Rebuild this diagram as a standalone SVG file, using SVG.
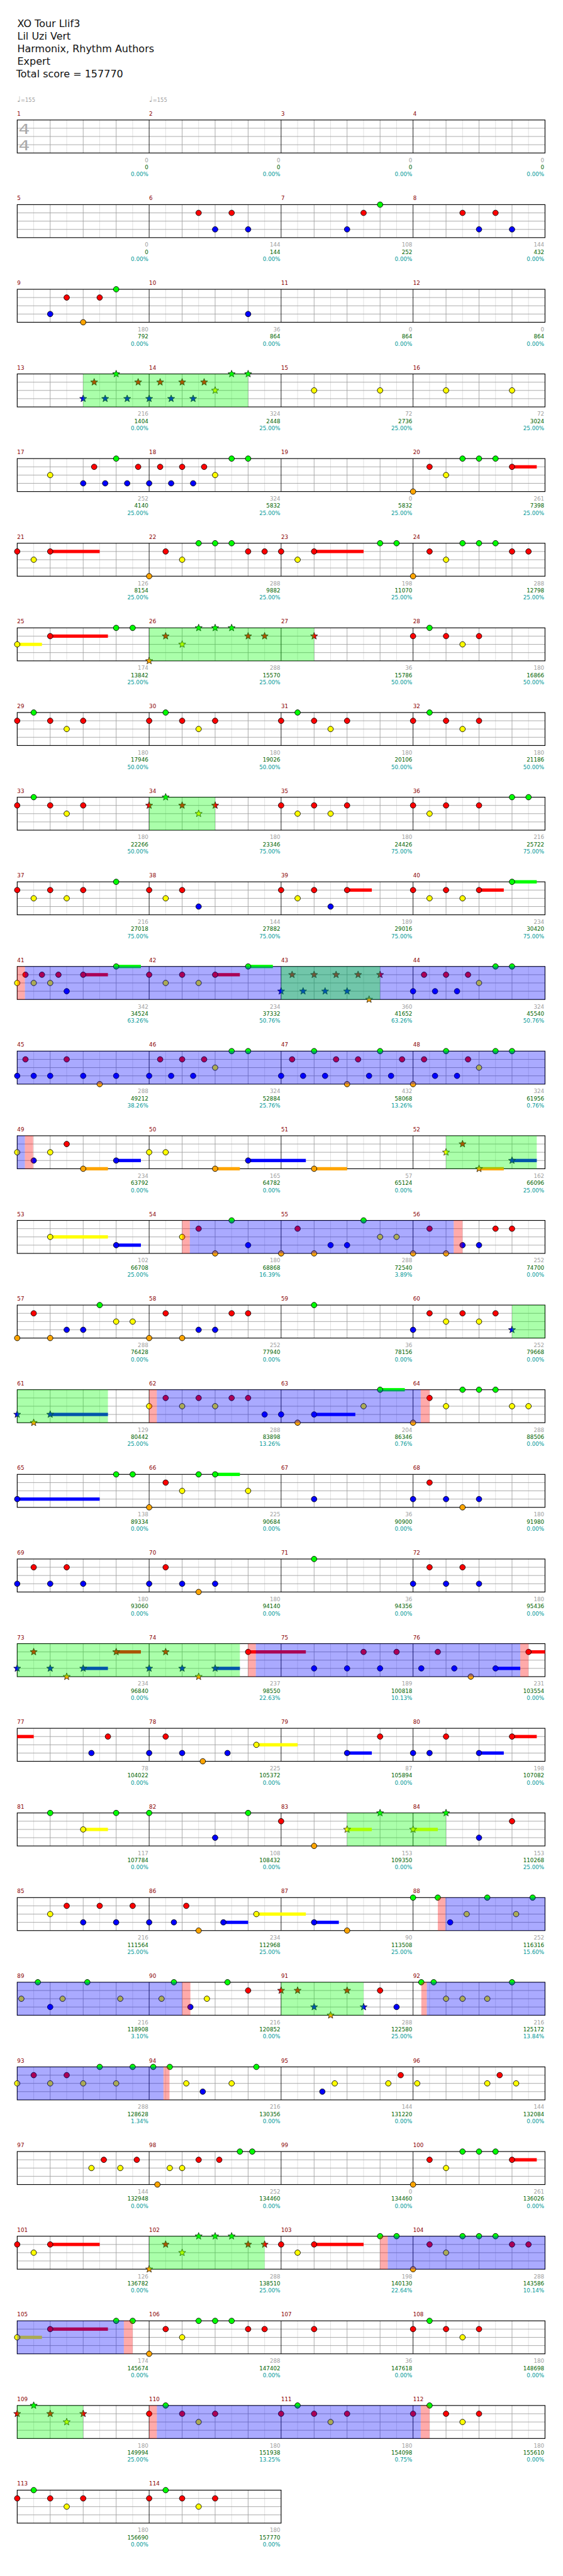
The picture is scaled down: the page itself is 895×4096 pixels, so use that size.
<svg xmlns="http://www.w3.org/2000/svg" width="895" height="4096" viewBox="0 0 895 4096">
<style>
text{font-family:"DejaVu Sans","Liberation Sans",sans-serif}
.ti{font-size:18.3px;fill:#111}
.n{font-size:10px;fill:#8b0000}
.l{font-size:10px;fill:#a0a0a0;text-anchor:end}
.k{fill:#006400}
.p{fill:#009999}
.ts{font-size:25px;fill:#aaa}
.tm{font-size:9.5px;fill:#a0a0a0}
.tq{font-size:14px}
.R{fill:#f00}.Y{fill:#ff0}.G{fill:#0f0}.B{fill:#00f}.O{fill:#ffa500}
.sp{fill:#0f0;fill-opacity:.333}.od{fill:#00f;fill-opacity:.333}.pk{fill:#f00;fill-opacity:.333}
</style>
<defs>
<circle id="c" r="5" stroke="#000" stroke-width="1"/>
<path id="s" d="M0,-6.8L1.7,-2.35L6.47,-2.1L2.76,0.9L4,5.5L0,2.9L-4,5.5L-2.76,0.9L-6.47,-2.1L-1.7,-2.35Z" stroke="#000" stroke-width=".8"/>
<g id="st"><rect width="960" height="60" fill="#fff"/><path d="M30 0v60M90 0v60M150 0v60M210 0v60M270 0v60M330 0v60M390 0v60M450 0v60M510 0v60M570 0v60M630 0v60M690 0v60M750 0v60M810 0v60M870 0v60M930 0v60" stroke="#dcdcdc"/><path d="M0 15h960M0 30h960M0 45h960M60 0v60M120 0v60M180 0v60M300 0v60M360 0v60M420 0v60M540 0v60M600 0v60M660 0v60M780 0v60M840 0v60M900 0v60" stroke="#a0a0a0"/><path d="M240 0v60M480 0v60M720 0v60" stroke="#000"/><rect width="960" height="60" fill="none" stroke="#000" stroke-width="1.3"/></g>
<g id="st2"><rect width="480" height="60" fill="#fff"/><path d="M30 0v60M90 0v60M150 0v60M210 0v60M270 0v60M330 0v60M390 0v60M450 0v60" stroke="#dcdcdc"/><path d="M0 15h480M0 30h480M0 45h480M60 0v60M120 0v60M180 0v60M300 0v60M360 0v60M420 0v60" stroke="#a0a0a0"/><path d="M240 0v60" stroke="#000"/><rect width="480" height="60" fill="none" stroke="#000" stroke-width="1.3"/></g>
</defs>
<rect width="895" height="4096" fill="#fff"/>
<g transform="scale(0.874)">
<g id="header">
<text class="ti" x="31.5" y="49">XO Tour Llif3</text>
<text class="ti" x="31.5" y="72">Lil Uzi Vert</text>
<text class="ti" x="31.5" y="95">Harmonix, Rhythm Authors</text>
<text class="ti" x="31.5" y="118">Expert</text>
<text class="ti" x="29.5" y="141">Total score = 157770</text>
</g>

<g id="row1" transform="translate(31.3,218.3)">
<use href="#st"/>
<text class="ts" transform="translate(2.5,25) scale(1.3,1)">4</text>
<text class="ts" transform="translate(2.5,54.7) scale(1.3,1)">4</text>
<text class="tm" x="0" y="-32.5"><tspan class="tq">♩</tspan>=155</text>
<text class="tm" x="240" y="-32.5"><tspan class="tq">♩</tspan>=155</text>
<g id="m1"><text class="n" y="-8">1</text><text class="l" x="238.5" y="76.5">0<tspan class="k" x="238.5" dy="13">0</tspan><tspan class="p" x="238.5" dy="13">0.00%</tspan></text></g>
<g id="m2" transform="translate(240)"><text class="n" y="-8">2</text><text class="l" x="238.5" y="76.5">0<tspan class="k" x="238.5" dy="13">0</tspan><tspan class="p" x="238.5" dy="13">0.00%</tspan></text></g>
<g id="m3" transform="translate(480)"><text class="n" y="-8">3</text><text class="l" x="238.5" y="76.5">0<tspan class="k" x="238.5" dy="13">0</tspan><tspan class="p" x="238.5" dy="13">0.00%</tspan></text></g>
<g id="m4" transform="translate(720)"><text class="n" y="-8">4</text><text class="l" x="238.5" y="76.5">0<tspan class="k" x="238.5" dy="13">0</tspan><tspan class="p" x="238.5" dy="13">0.00%</tspan></text></g>
</g>

<g id="row2" transform="translate(31.3,372.3)">
<use href="#st"/>
<g id="m5"><text class="n" y="-8">5</text><text class="l" x="238.5" y="76.5">0<tspan class="k" x="238.5" dy="13">0</tspan><tspan class="p" x="238.5" dy="13">0.00%</tspan></text></g>
<g id="m6" transform="translate(240)"><text class="n" y="-8">6</text><use href="#c" class="R" x="90" y="15"/><use href="#c" class="B" x="120" y="45"/><use href="#c" class="R" x="150" y="15"/><use href="#c" class="B" x="180" y="45"/><text class="l" x="238.5" y="76.5">144<tspan class="k" x="238.5" dy="13">144</tspan><tspan class="p" x="238.5" dy="13">0.00%</tspan></text></g>
<g id="m7" transform="translate(480)"><text class="n" y="-8">7</text><use href="#c" class="B" x="120" y="45"/><use href="#c" class="R" x="150" y="15"/><use href="#c" class="G" x="180" y="0"/><text class="l" x="238.5" y="76.5">108<tspan class="k" x="238.5" dy="13">252</tspan><tspan class="p" x="238.5" dy="13">0.00%</tspan></text></g>
<g id="m8" transform="translate(720)"><text class="n" y="-8">8</text><use href="#c" class="R" x="90" y="15"/><use href="#c" class="B" x="120" y="45"/><use href="#c" class="R" x="150" y="15"/><use href="#c" class="B" x="180" y="45"/><text class="l" x="238.5" y="76.5">144<tspan class="k" x="238.5" dy="13">432</tspan><tspan class="p" x="238.5" dy="13">0.00%</tspan></text></g>
</g>

<g id="row3" transform="translate(31.3,526.3)">
<use href="#st"/>
<g id="m9"><text class="n" y="-8">9</text><use href="#c" class="B" x="60" y="45"/><use href="#c" class="R" x="90" y="15"/><use href="#c" class="O" x="120" y="60"/><use href="#c" class="R" x="150" y="15"/><use href="#c" class="G" x="180" y="0"/><text class="l" x="238.5" y="76.5">180<tspan class="k" x="238.5" dy="13">792</tspan><tspan class="p" x="238.5" dy="13">0.00%</tspan></text></g>
<g id="m10" transform="translate(240)"><text class="n" y="-8">10</text><use href="#c" class="B" x="180" y="45"/><text class="l" x="238.5" y="76.5">36<tspan class="k" x="238.5" dy="13">864</tspan><tspan class="p" x="238.5" dy="13">0.00%</tspan></text></g>
<g id="m11" transform="translate(480)"><text class="n" y="-8">11</text><text class="l" x="238.5" y="76.5">0<tspan class="k" x="238.5" dy="13">864</tspan><tspan class="p" x="238.5" dy="13">0.00%</tspan></text></g>
<g id="m12" transform="translate(720)"><text class="n" y="-8">12</text><text class="l" x="238.5" y="76.5">0<tspan class="k" x="238.5" dy="13">864</tspan><tspan class="p" x="238.5" dy="13">0.00%</tspan></text></g>
</g>

<g id="row4" transform="translate(31.3,680.3)">
<use href="#st"/>
<g id="m13"><text class="n" y="-8">13</text><use href="#s" class="B" x="120" y="45"/><use href="#s" class="R" x="140" y="15"/><use href="#s" class="B" x="160" y="45"/><use href="#s" class="G" x="180" y="0"/><use href="#s" class="B" x="200" y="45"/><use href="#s" class="R" x="220" y="15"/><text class="l" x="238.5" y="76.5">216<tspan class="k" x="238.5" dy="13">1404</tspan><tspan class="p" x="238.5" dy="13">0.00%</tspan></text></g>
<g id="m14" transform="translate(240)"><text class="n" y="-8">14</text><use href="#s" class="B" x="0" y="45"/><use href="#s" class="R" x="20" y="15"/><use href="#s" class="B" x="40" y="45"/><use href="#s" class="R" x="60" y="15"/><use href="#s" class="B" x="80" y="45"/><use href="#s" class="R" x="100" y="15"/><use href="#s" class="Y" x="120" y="30"/><use href="#s" class="G" x="150" y="0"/><use href="#s" class="G" x="180" y="0"/><text class="l" x="238.5" y="76.5">324<tspan class="k" x="238.5" dy="13">2448</tspan><tspan class="p" x="238.5" dy="13">25.00%</tspan></text></g>
<g id="m15" transform="translate(480)"><text class="n" y="-8">15</text><use href="#c" class="Y" x="60" y="30"/><use href="#c" class="Y" x="180" y="30"/><text class="l" x="238.5" y="76.5">72<tspan class="k" x="238.5" dy="13">2736</tspan><tspan class="p" x="238.5" dy="13">25.00%</tspan></text></g>
<g id="m16" transform="translate(720)"><text class="n" y="-8">16</text><use href="#c" class="Y" x="60" y="30"/><use href="#c" class="Y" x="180" y="30"/><text class="l" x="238.5" y="76.5">72<tspan class="k" x="238.5" dy="13">3024</tspan><tspan class="p" x="238.5" dy="13">25.00%</tspan></text></g>
<rect class="sp" x="120" width="300" height="60"/>
</g>

<g id="row5" transform="translate(31.3,834.3)">
<use href="#st"/>
<g id="m17"><text class="n" y="-8">17</text><use href="#c" class="Y" x="60" y="30"/><use href="#c" class="B" x="120" y="45"/><use href="#c" class="R" x="140" y="15"/><use href="#c" class="B" x="160" y="45"/><use href="#c" class="G" x="180" y="0"/><use href="#c" class="B" x="200" y="45"/><use href="#c" class="R" x="220" y="15"/><text class="l" x="238.5" y="76.5">252<tspan class="k" x="238.5" dy="13">4140</tspan><tspan class="p" x="238.5" dy="13">25.00%</tspan></text></g>
<g id="m18" transform="translate(240)"><text class="n" y="-8">18</text><use href="#c" class="B" x="0" y="45"/><use href="#c" class="R" x="20" y="15"/><use href="#c" class="B" x="40" y="45"/><use href="#c" class="R" x="60" y="15"/><use href="#c" class="B" x="80" y="45"/><use href="#c" class="R" x="100" y="15"/><use href="#c" class="Y" x="120" y="30"/><use href="#c" class="G" x="150" y="0"/><use href="#c" class="G" x="180" y="0"/><text class="l" x="238.5" y="76.5">324<tspan class="k" x="238.5" dy="13">5832</tspan><tspan class="p" x="238.5" dy="13">25.00%</tspan></text></g>
<g id="m19" transform="translate(480)"><text class="n" y="-8">19</text><text class="l" x="238.5" y="76.5">0<tspan class="k" x="238.5" dy="13">5832</tspan><tspan class="p" x="238.5" dy="13">25.00%</tspan></text></g>
<g id="m20" transform="translate(720)"><text class="n" y="-8">20</text><rect class="R" x="180" y="12" width="45" height="6"/><use href="#c" class="O" x="0" y="60"/><use href="#c" class="R" x="30" y="15"/><use href="#c" class="Y" x="60" y="30"/><use href="#c" class="G" x="90" y="0"/><use href="#c" class="G" x="120" y="0"/><use href="#c" class="G" x="150" y="0"/><use href="#c" class="R" x="180" y="15"/><text class="l" x="238.5" y="76.5">261<tspan class="k" x="238.5" dy="13">7398</tspan><tspan class="p" x="238.5" dy="13">25.00%</tspan></text></g>
</g>

<g id="row6" transform="translate(31.3,988.3)">
<use href="#st"/>
<g id="m21"><text class="n" y="-8">21</text><rect class="R" x="60" y="12" width="90" height="6"/><use href="#c" class="R" x="0" y="15"/><use href="#c" class="Y" x="30" y="30"/><use href="#c" class="R" x="60" y="15"/><text class="l" x="238.5" y="76.5">126<tspan class="k" x="238.5" dy="13">8154</tspan><tspan class="p" x="238.5" dy="13">25.00%</tspan></text></g>
<g id="m22" transform="translate(240)"><text class="n" y="-8">22</text><use href="#c" class="O" x="0" y="60"/><use href="#c" class="R" x="30" y="15"/><use href="#c" class="Y" x="60" y="30"/><use href="#c" class="G" x="90" y="0"/><use href="#c" class="G" x="120" y="0"/><use href="#c" class="G" x="150" y="0"/><use href="#c" class="R" x="180" y="15"/><use href="#c" class="R" x="210" y="15"/><text class="l" x="238.5" y="76.5">288<tspan class="k" x="238.5" dy="13">9882</tspan><tspan class="p" x="238.5" dy="13">25.00%</tspan></text></g>
<g id="m23" transform="translate(480)"><text class="n" y="-8">23</text><rect class="R" x="60" y="12" width="90" height="6"/><use href="#c" class="R" x="0" y="15"/><use href="#c" class="Y" x="30" y="30"/><use href="#c" class="R" x="60" y="15"/><use href="#c" class="G" x="180" y="0"/><use href="#c" class="G" x="210" y="0"/><text class="l" x="238.5" y="76.5">198<tspan class="k" x="238.5" dy="13">11070</tspan><tspan class="p" x="238.5" dy="13">25.00%</tspan></text></g>
<g id="m24" transform="translate(720)"><text class="n" y="-8">24</text><use href="#c" class="O" x="0" y="60"/><use href="#c" class="R" x="30" y="15"/><use href="#c" class="Y" x="60" y="30"/><use href="#c" class="G" x="90" y="0"/><use href="#c" class="G" x="120" y="0"/><use href="#c" class="G" x="150" y="0"/><use href="#c" class="R" x="180" y="15"/><use href="#c" class="R" x="210" y="15"/><text class="l" x="238.5" y="76.5">288<tspan class="k" x="238.5" dy="13">12798</tspan><tspan class="p" x="238.5" dy="13">25.00%</tspan></text></g>
</g>

<g id="row7" transform="translate(31.3,1142.3)">
<use href="#st"/>
<g id="m25"><text class="n" y="-8">25</text><rect class="Y" x="0" y="27" width="45" height="6"/><rect class="R" x="60" y="12" width="105" height="6"/><use href="#c" class="Y" x="0" y="30"/><use href="#c" class="R" x="60" y="15"/><use href="#c" class="G" x="180" y="0"/><use href="#c" class="G" x="210" y="0"/><text class="l" x="238.5" y="76.5">174<tspan class="k" x="238.5" dy="13">13842</tspan><tspan class="p" x="238.5" dy="13">25.00%</tspan></text></g>
<g id="m26" transform="translate(240)"><text class="n" y="-8">26</text><use href="#s" class="O" x="0" y="60"/><use href="#s" class="R" x="30" y="15"/><use href="#s" class="Y" x="60" y="30"/><use href="#s" class="G" x="90" y="0"/><use href="#s" class="G" x="120" y="0"/><use href="#s" class="G" x="150" y="0"/><use href="#s" class="R" x="180" y="15"/><use href="#s" class="R" x="210" y="15"/><text class="l" x="238.5" y="76.5">288<tspan class="k" x="238.5" dy="13">15570</tspan><tspan class="p" x="238.5" dy="13">25.00%</tspan></text></g>
<g id="m27" transform="translate(480)"><text class="n" y="-8">27</text><use href="#s" class="R" x="60" y="15"/><text class="l" x="238.5" y="76.5">36<tspan class="k" x="238.5" dy="13">15786</tspan><tspan class="p" x="238.5" dy="13">50.00%</tspan></text></g>
<g id="m28" transform="translate(720)"><text class="n" y="-8">28</text><use href="#c" class="R" x="0" y="15"/><use href="#c" class="G" x="30" y="0"/><use href="#c" class="R" x="60" y="15"/><use href="#c" class="Y" x="90" y="30"/><use href="#c" class="R" x="120" y="15"/><text class="l" x="238.5" y="76.5">180<tspan class="k" x="238.5" dy="13">16866</tspan><tspan class="p" x="238.5" dy="13">50.00%</tspan></text></g>
<rect class="sp" x="240" width="300" height="60"/>
</g>

<g id="row8" transform="translate(31.3,1296.3)">
<use href="#st"/>
<g id="m29"><text class="n" y="-8">29</text><use href="#c" class="R" x="0" y="15"/><use href="#c" class="G" x="30" y="0"/><use href="#c" class="R" x="60" y="15"/><use href="#c" class="Y" x="90" y="30"/><use href="#c" class="R" x="120" y="15"/><text class="l" x="238.5" y="76.5">180<tspan class="k" x="238.5" dy="13">17946</tspan><tspan class="p" x="238.5" dy="13">50.00%</tspan></text></g>
<g id="m30" transform="translate(240)"><text class="n" y="-8">30</text><use href="#c" class="R" x="0" y="15"/><use href="#c" class="G" x="30" y="0"/><use href="#c" class="R" x="60" y="15"/><use href="#c" class="Y" x="90" y="30"/><use href="#c" class="R" x="120" y="15"/><text class="l" x="238.5" y="76.5">180<tspan class="k" x="238.5" dy="13">19026</tspan><tspan class="p" x="238.5" dy="13">50.00%</tspan></text></g>
<g id="m31" transform="translate(480)"><text class="n" y="-8">31</text><use href="#c" class="R" x="0" y="15"/><use href="#c" class="G" x="30" y="0"/><use href="#c" class="R" x="60" y="15"/><use href="#c" class="Y" x="90" y="30"/><use href="#c" class="R" x="120" y="15"/><text class="l" x="238.5" y="76.5">180<tspan class="k" x="238.5" dy="13">20106</tspan><tspan class="p" x="238.5" dy="13">50.00%</tspan></text></g>
<g id="m32" transform="translate(720)"><text class="n" y="-8">32</text><use href="#c" class="R" x="0" y="15"/><use href="#c" class="G" x="30" y="0"/><use href="#c" class="R" x="60" y="15"/><use href="#c" class="Y" x="90" y="30"/><use href="#c" class="R" x="120" y="15"/><text class="l" x="238.5" y="76.5">180<tspan class="k" x="238.5" dy="13">21186</tspan><tspan class="p" x="238.5" dy="13">50.00%</tspan></text></g>
</g>

<g id="row9" transform="translate(31.3,1450.3)">
<use href="#st"/>
<g id="m33"><text class="n" y="-8">33</text><use href="#c" class="R" x="0" y="15"/><use href="#c" class="G" x="30" y="0"/><use href="#c" class="R" x="60" y="15"/><use href="#c" class="Y" x="90" y="30"/><use href="#c" class="R" x="120" y="15"/><text class="l" x="238.5" y="76.5">180<tspan class="k" x="238.5" dy="13">22266</tspan><tspan class="p" x="238.5" dy="13">50.00%</tspan></text></g>
<g id="m34" transform="translate(240)"><text class="n" y="-8">34</text><use href="#s" class="R" x="0" y="15"/><use href="#s" class="G" x="30" y="0"/><use href="#s" class="R" x="60" y="15"/><use href="#s" class="Y" x="90" y="30"/><use href="#s" class="R" x="120" y="15"/><text class="l" x="238.5" y="76.5">180<tspan class="k" x="238.5" dy="13">23346</tspan><tspan class="p" x="238.5" dy="13">75.00%</tspan></text></g>
<g id="m35" transform="translate(480)"><text class="n" y="-8">35</text><use href="#c" class="R" x="0" y="15"/><use href="#c" class="Y" x="30" y="30"/><use href="#c" class="R" x="60" y="15"/><use href="#c" class="Y" x="90" y="30"/><use href="#c" class="R" x="120" y="15"/><text class="l" x="238.5" y="76.5">180<tspan class="k" x="238.5" dy="13">24426</tspan><tspan class="p" x="238.5" dy="13">75.00%</tspan></text></g>
<g id="m36" transform="translate(720)"><text class="n" y="-8">36</text><use href="#c" class="R" x="0" y="15"/><use href="#c" class="Y" x="30" y="30"/><use href="#c" class="R" x="60" y="15"/><use href="#c" class="R" x="120" y="15"/><use href="#c" class="G" x="180" y="0"/><use href="#c" class="G" x="210" y="0"/><text class="l" x="238.5" y="76.5">216<tspan class="k" x="238.5" dy="13">25722</tspan><tspan class="p" x="238.5" dy="13">75.00%</tspan></text></g>
<rect class="sp" x="240" width="120" height="60"/>
</g>

<g id="row10" transform="translate(31.3,1604.3)">
<use href="#st"/>
<g id="m37"><text class="n" y="-8">37</text><use href="#c" class="R" x="0" y="15"/><use href="#c" class="Y" x="30" y="30"/><use href="#c" class="R" x="60" y="15"/><use href="#c" class="Y" x="90" y="30"/><use href="#c" class="R" x="120" y="15"/><use href="#c" class="G" x="180" y="0"/><text class="l" x="238.5" y="76.5">216<tspan class="k" x="238.5" dy="13">27018</tspan><tspan class="p" x="238.5" dy="13">75.00%</tspan></text></g>
<g id="m38" transform="translate(240)"><text class="n" y="-8">38</text><use href="#c" class="R" x="0" y="15"/><use href="#c" class="Y" x="30" y="30"/><use href="#c" class="R" x="60" y="15"/><use href="#c" class="B" x="90" y="45"/><text class="l" x="238.5" y="76.5">144<tspan class="k" x="238.5" dy="13">27882</tspan><tspan class="p" x="238.5" dy="13">75.00%</tspan></text></g>
<g id="m39" transform="translate(480)"><text class="n" y="-8">39</text><rect class="R" x="120" y="12" width="45" height="6"/><use href="#c" class="R" x="0" y="15"/><use href="#c" class="Y" x="30" y="30"/><use href="#c" class="R" x="60" y="15"/><use href="#c" class="B" x="90" y="45"/><use href="#c" class="R" x="120" y="15"/><text class="l" x="238.5" y="76.5">189<tspan class="k" x="238.5" dy="13">29016</tspan><tspan class="p" x="238.5" dy="13">75.00%</tspan></text></g>
<g id="m40" transform="translate(720)"><text class="n" y="-8">40</text><rect class="R" x="120" y="12" width="45" height="6"/><rect class="G" x="180" y="-3" width="45" height="6"/><use href="#c" class="R" x="0" y="15"/><use href="#c" class="Y" x="30" y="30"/><use href="#c" class="R" x="60" y="15"/><use href="#c" class="Y" x="90" y="30"/><use href="#c" class="R" x="120" y="15"/><use href="#c" class="G" x="180" y="0"/><text class="l" x="238.5" y="76.5">234<tspan class="k" x="238.5" dy="13">30420</tspan><tspan class="p" x="238.5" dy="13">75.00%</tspan></text></g>
</g>

<g id="row11" transform="translate(31.3,1758.3)">
<use href="#st"/>
<g id="m41"><text class="n" y="-8">41</text><rect class="R" x="120" y="12" width="45" height="6"/><rect class="G" x="180" y="-3" width="45" height="6"/><use href="#c" class="Y" x="0" y="30"/><use href="#c" class="R" x="15" y="15"/><use href="#c" class="Y" x="30" y="30"/><use href="#c" class="R" x="45" y="15"/><use href="#c" class="Y" x="60" y="30"/><use href="#c" class="R" x="75" y="15"/><use href="#c" class="B" x="90" y="45"/><use href="#c" class="R" x="120" y="15"/><use href="#c" class="G" x="180" y="0"/><text class="l" x="238.5" y="76.5">342<tspan class="k" x="238.5" dy="13">34524</tspan><tspan class="p" x="238.5" dy="13">63.26%</tspan></text></g>
<g id="m42" transform="translate(240)"><text class="n" y="-8">42</text><rect class="R" x="120" y="12" width="45" height="6"/><rect class="G" x="180" y="-3" width="45" height="6"/><use href="#c" class="R" x="0" y="15"/><use href="#c" class="Y" x="30" y="30"/><use href="#c" class="R" x="60" y="15"/><use href="#c" class="Y" x="90" y="30"/><use href="#c" class="R" x="120" y="15"/><use href="#c" class="G" x="180" y="0"/><text class="l" x="238.5" y="76.5">234<tspan class="k" x="238.5" dy="13">37332</tspan><tspan class="p" x="238.5" dy="13">50.76%</tspan></text></g>
<g id="m43" transform="translate(480)"><text class="n" y="-8">43</text><use href="#s" class="B" x="0" y="45"/><use href="#s" class="R" x="20" y="15"/><use href="#s" class="B" x="40" y="45"/><use href="#s" class="R" x="60" y="15"/><use href="#s" class="B" x="80" y="45"/><use href="#s" class="R" x="100" y="15"/><use href="#s" class="B" x="120" y="45"/><use href="#s" class="R" x="140" y="15"/><use href="#s" class="O" x="160" y="60"/><use href="#s" class="R" x="180" y="15"/><text class="l" x="238.5" y="76.5">360<tspan class="k" x="238.5" dy="13">41652</tspan><tspan class="p" x="238.5" dy="13">63.26%</tspan></text></g>
<g id="m44" transform="translate(720)"><text class="n" y="-8">44</text><use href="#c" class="B" x="0" y="45"/><use href="#c" class="R" x="20" y="15"/><use href="#c" class="B" x="40" y="45"/><use href="#c" class="R" x="60" y="15"/><use href="#c" class="B" x="80" y="45"/><use href="#c" class="R" x="100" y="15"/><use href="#c" class="Y" x="120" y="30"/><use href="#c" class="G" x="150" y="0"/><use href="#c" class="G" x="180" y="0"/><text class="l" x="238.5" y="76.5">324<tspan class="k" x="238.5" dy="13">45540</tspan><tspan class="p" x="238.5" dy="13">50.76%</tspan></text></g>
<rect class="pk" x="0" width="14" height="60"/><rect class="od" x="14" width="946" height="60"/><rect class="sp" x="480" width="180" height="60"/>
</g>

<g id="row12" transform="translate(31.3,1912.3)">
<use href="#st"/>
<g id="m45"><text class="n" y="-8">45</text><use href="#c" class="B" x="0" y="45"/><use href="#c" class="R" x="15" y="15"/><use href="#c" class="B" x="30" y="45"/><use href="#c" class="B" x="60" y="45"/><use href="#c" class="R" x="90" y="15"/><use href="#c" class="B" x="120" y="45"/><use href="#c" class="O" x="150" y="60"/><use href="#c" class="B" x="180" y="45"/><text class="l" x="238.5" y="76.5">288<tspan class="k" x="238.5" dy="13">49212</tspan><tspan class="p" x="238.5" dy="13">38.26%</tspan></text></g>
<g id="m46" transform="translate(240)"><text class="n" y="-8">46</text><use href="#c" class="B" x="0" y="45"/><use href="#c" class="R" x="20" y="15"/><use href="#c" class="B" x="40" y="45"/><use href="#c" class="R" x="60" y="15"/><use href="#c" class="B" x="80" y="45"/><use href="#c" class="R" x="100" y="15"/><use href="#c" class="Y" x="120" y="30"/><use href="#c" class="G" x="150" y="0"/><use href="#c" class="G" x="180" y="0"/><text class="l" x="238.5" y="76.5">324<tspan class="k" x="238.5" dy="13">52884</tspan><tspan class="p" x="238.5" dy="13">25.76%</tspan></text></g>
<g id="m47" transform="translate(480)"><text class="n" y="-8">47</text><use href="#c" class="B" x="0" y="45"/><use href="#c" class="R" x="20" y="15"/><use href="#c" class="B" x="40" y="45"/><use href="#c" class="G" x="60" y="0"/><use href="#c" class="B" x="80" y="45"/><use href="#c" class="R" x="100" y="15"/><use href="#c" class="O" x="120" y="60"/><use href="#c" class="R" x="140" y="15"/><use href="#c" class="B" x="160" y="45"/><use href="#c" class="G" x="180" y="0"/><use href="#c" class="B" x="200" y="45"/><use href="#c" class="R" x="220" y="15"/><text class="l" x="238.5" y="76.5">432<tspan class="k" x="238.5" dy="13">58068</tspan><tspan class="p" x="238.5" dy="13">13.26%</tspan></text></g>
<g id="m48" transform="translate(720)"><text class="n" y="-8">48</text><use href="#c" class="O" x="0" y="60"/><use href="#c" class="R" x="20" y="15"/><use href="#c" class="B" x="40" y="45"/><use href="#c" class="G" x="60" y="0"/><use href="#c" class="B" x="80" y="45"/><use href="#c" class="R" x="100" y="15"/><use href="#c" class="Y" x="120" y="30"/><use href="#c" class="G" x="150" y="0"/><use href="#c" class="G" x="180" y="0"/><text class="l" x="238.5" y="76.5">324<tspan class="k" x="238.5" dy="13">61956</tspan><tspan class="p" x="238.5" dy="13">0.76%</tspan></text></g>
<rect class="od" x="0" width="960" height="60"/>
</g>

<g id="row13" transform="translate(31.3,2066.3)">
<use href="#st"/>
<g id="m49"><text class="n" y="-8">49</text><rect class="O" x="120" y="57" width="45" height="6"/><rect class="B" x="180" y="42" width="45" height="6"/><use href="#c" class="Y" x="0" y="30"/><use href="#c" class="B" x="30" y="45"/><use href="#c" class="Y" x="60" y="30"/><use href="#c" class="R" x="90" y="15"/><use href="#c" class="O" x="120" y="60"/><use href="#c" class="B" x="180" y="45"/><text class="l" x="238.5" y="76.5">234<tspan class="k" x="238.5" dy="13">63792</tspan><tspan class="p" x="238.5" dy="13">0.00%</tspan></text></g>
<g id="m50" transform="translate(240)"><text class="n" y="-8">50</text><rect class="O" x="120" y="57" width="45" height="6"/><rect class="B" x="180" y="42" width="105" height="6"/><use href="#c" class="Y" x="0" y="30"/><use href="#c" class="Y" x="30" y="30"/><use href="#c" class="O" x="120" y="60"/><use href="#c" class="B" x="180" y="45"/><text class="l" x="238.5" y="76.5">165<tspan class="k" x="238.5" dy="13">64782</tspan><tspan class="p" x="238.5" dy="13">0.00%</tspan></text></g>
<g id="m51" transform="translate(480)"><text class="n" y="-8">51</text><rect class="O" x="60" y="57" width="60" height="6"/><use href="#c" class="O" x="60" y="60"/><text class="l" x="238.5" y="76.5">57<tspan class="k" x="238.5" dy="13">65124</tspan><tspan class="p" x="238.5" dy="13">0.00%</tspan></text></g>
<g id="m52" transform="translate(720)"><text class="n" y="-8">52</text><rect class="O" x="120" y="57" width="45" height="6"/><rect class="B" x="180" y="42" width="45" height="6"/><use href="#s" class="Y" x="60" y="30"/><use href="#s" class="R" x="90" y="15"/><use href="#s" class="O" x="120" y="60"/><use href="#s" class="B" x="180" y="45"/><text class="l" x="238.5" y="76.5">162<tspan class="k" x="238.5" dy="13">66096</tspan><tspan class="p" x="238.5" dy="13">25.00%</tspan></text></g>
<rect class="od" x="0" width="14" height="60"/><rect class="pk" x="14" width="15" height="60"/><rect class="sp" x="780" width="165" height="60"/>
</g>

<g id="row14" transform="translate(31.3,2220.3)">
<use href="#st"/>
<g id="m53"><text class="n" y="-8">53</text><rect class="Y" x="60" y="27" width="105" height="6"/><rect class="B" x="180" y="42" width="45" height="6"/><use href="#c" class="Y" x="60" y="30"/><use href="#c" class="B" x="180" y="45"/><text class="l" x="238.5" y="76.5">102<tspan class="k" x="238.5" dy="13">66708</tspan><tspan class="p" x="238.5" dy="13">25.00%</tspan></text></g>
<g id="m54" transform="translate(240)"><text class="n" y="-8">54</text><use href="#c" class="Y" x="60" y="30"/><use href="#c" class="R" x="90" y="15"/><use href="#c" class="O" x="120" y="60"/><use href="#c" class="G" x="150" y="0"/><use href="#c" class="B" x="180" y="45"/><text class="l" x="238.5" y="76.5">180<tspan class="k" x="238.5" dy="13">68868</tspan><tspan class="p" x="238.5" dy="13">16.39%</tspan></text></g>
<g id="m55" transform="translate(480)"><text class="n" y="-8">55</text><use href="#c" class="O" x="0" y="60"/><use href="#c" class="R" x="30" y="15"/><use href="#c" class="O" x="60" y="60"/><use href="#c" class="B" x="90" y="45"/><use href="#c" class="B" x="120" y="45"/><use href="#c" class="G" x="150" y="0"/><use href="#c" class="Y" x="180" y="30"/><use href="#c" class="Y" x="210" y="30"/><text class="l" x="238.5" y="76.5">288<tspan class="k" x="238.5" dy="13">72540</tspan><tspan class="p" x="238.5" dy="13">3.89%</tspan></text></g>
<g id="m56" transform="translate(720)"><text class="n" y="-8">56</text><use href="#c" class="O" x="0" y="60"/><use href="#c" class="R" x="30" y="15"/><use href="#c" class="O" x="60" y="60"/><use href="#c" class="B" x="90" y="45"/><use href="#c" class="B" x="120" y="45"/><use href="#c" class="R" x="150" y="15"/><use href="#c" class="R" x="180" y="15"/><text class="l" x="238.5" y="76.5">252<tspan class="k" x="238.5" dy="13">74700</tspan><tspan class="p" x="238.5" dy="13">0.00%</tspan></text></g>
<rect class="pk" x="300" width="14" height="60"/><rect class="od" x="314" width="480" height="60"/><rect class="pk" x="794" width="16" height="60"/>
</g>

<g id="row15" transform="translate(31.3,2374.3)">
<use href="#st"/>
<g id="m57"><text class="n" y="-8">57</text><use href="#c" class="O" x="0" y="60"/><use href="#c" class="R" x="30" y="15"/><use href="#c" class="O" x="60" y="60"/><use href="#c" class="B" x="90" y="45"/><use href="#c" class="B" x="120" y="45"/><use href="#c" class="G" x="150" y="0"/><use href="#c" class="Y" x="180" y="30"/><use href="#c" class="Y" x="210" y="30"/><text class="l" x="238.5" y="76.5">288<tspan class="k" x="238.5" dy="13">76428</tspan><tspan class="p" x="238.5" dy="13">0.00%</tspan></text></g>
<g id="m58" transform="translate(240)"><text class="n" y="-8">58</text><use href="#c" class="O" x="0" y="60"/><use href="#c" class="R" x="30" y="15"/><use href="#c" class="O" x="60" y="60"/><use href="#c" class="B" x="90" y="45"/><use href="#c" class="B" x="120" y="45"/><use href="#c" class="R" x="150" y="15"/><use href="#c" class="R" x="180" y="15"/><text class="l" x="238.5" y="76.5">252<tspan class="k" x="238.5" dy="13">77940</tspan><tspan class="p" x="238.5" dy="13">0.00%</tspan></text></g>
<g id="m59" transform="translate(480)"><text class="n" y="-8">59</text><use href="#c" class="G" x="60" y="0"/><text class="l" x="238.5" y="76.5">36<tspan class="k" x="238.5" dy="13">78156</tspan><tspan class="p" x="238.5" dy="13">0.00%</tspan></text></g>
<g id="m60" transform="translate(720)"><text class="n" y="-8">60</text><use href="#c" class="B" x="0" y="45"/><use href="#c" class="R" x="30" y="15"/><use href="#c" class="Y" x="60" y="30"/><use href="#c" class="R" x="90" y="15"/><use href="#c" class="Y" x="120" y="30"/><use href="#c" class="R" x="150" y="15"/><use href="#s" class="B" x="180" y="45"/><text class="l" x="238.5" y="76.5">252<tspan class="k" x="238.5" dy="13">79668</tspan><tspan class="p" x="238.5" dy="13">0.00%</tspan></text></g>
<rect class="sp" x="900" width="60" height="60"/>
</g>

<g id="row16" transform="translate(31.3,2528.3)">
<use href="#st"/>
<g id="m61"><text class="n" y="-8">61</text><rect class="B" x="60" y="42" width="105" height="6"/><use href="#s" class="B" x="0" y="45"/><use href="#s" class="O" x="30" y="60"/><use href="#s" class="B" x="60" y="45"/><text class="l" x="238.5" y="76.5">129<tspan class="k" x="238.5" dy="13">80442</tspan><tspan class="p" x="238.5" dy="13">25.00%</tspan></text></g>
<g id="m62" transform="translate(240)"><text class="n" y="-8">62</text><use href="#c" class="Y" x="0" y="30"/><use href="#c" class="R" x="30" y="15"/><use href="#c" class="Y" x="60" y="30"/><use href="#c" class="R" x="90" y="15"/><use href="#c" class="Y" x="120" y="30"/><use href="#c" class="R" x="150" y="15"/><use href="#c" class="R" x="180" y="15"/><use href="#c" class="B" x="210" y="45"/><text class="l" x="238.5" y="76.5">288<tspan class="k" x="238.5" dy="13">83898</tspan><tspan class="p" x="238.5" dy="13">13.26%</tspan></text></g>
<g id="m63" transform="translate(480)"><text class="n" y="-8">63</text><rect class="B" x="60" y="42" width="75" height="6"/><rect class="G" x="180" y="-3" width="45" height="6"/><use href="#c" class="B" x="0" y="45"/><use href="#c" class="O" x="30" y="60"/><use href="#c" class="B" x="60" y="45"/><use href="#c" class="Y" x="150" y="30"/><use href="#c" class="G" x="180" y="0"/><text class="l" x="238.5" y="76.5">204<tspan class="k" x="238.5" dy="13">86346</tspan><tspan class="p" x="238.5" dy="13">0.76%</tspan></text></g>
<g id="m64" transform="translate(720)"><text class="n" y="-8">64</text><use href="#c" class="O" x="0" y="60"/><use href="#c" class="R" x="30" y="15"/><use href="#c" class="Y" x="60" y="30"/><use href="#c" class="G" x="90" y="0"/><use href="#c" class="G" x="120" y="0"/><use href="#c" class="G" x="150" y="0"/><use href="#c" class="Y" x="180" y="30"/><use href="#c" class="Y" x="210" y="30"/><text class="l" x="238.5" y="76.5">288<tspan class="k" x="238.5" dy="13">88506</tspan><tspan class="p" x="238.5" dy="13">0.00%</tspan></text></g>
<rect class="sp" x="0" width="165" height="60"/><rect class="pk" x="240" width="14" height="60"/><rect class="od" x="254" width="480" height="60"/><rect class="pk" x="734" width="16" height="60"/>
</g>

<g id="row17" transform="translate(31.3,2682.3)">
<use href="#st"/>
<g id="m65"><text class="n" y="-8">65</text><rect class="B" x="0" y="42" width="150" height="6"/><use href="#c" class="B" x="0" y="45"/><use href="#c" class="G" x="180" y="0"/><use href="#c" class="G" x="210" y="0"/><text class="l" x="238.5" y="76.5">138<tspan class="k" x="238.5" dy="13">89334</tspan><tspan class="p" x="238.5" dy="13">0.00%</tspan></text></g>
<g id="m66" transform="translate(240)"><text class="n" y="-8">66</text><rect class="G" x="120" y="-3" width="45" height="6"/><use href="#c" class="O" x="0" y="60"/><use href="#c" class="R" x="30" y="15"/><use href="#c" class="Y" x="60" y="30"/><use href="#c" class="G" x="90" y="0"/><use href="#c" class="G" x="120" y="0"/><use href="#c" class="Y" x="180" y="30"/><text class="l" x="238.5" y="76.5">225<tspan class="k" x="238.5" dy="13">90684</tspan><tspan class="p" x="238.5" dy="13">0.00%</tspan></text></g>
<g id="m67" transform="translate(480)"><text class="n" y="-8">67</text><use href="#c" class="B" x="60" y="45"/><text class="l" x="238.5" y="76.5">36<tspan class="k" x="238.5" dy="13">90900</tspan><tspan class="p" x="238.5" dy="13">0.00%</tspan></text></g>
<g id="m68" transform="translate(720)"><text class="n" y="-8">68</text><use href="#c" class="B" x="0" y="45"/><use href="#c" class="R" x="30" y="15"/><use href="#c" class="B" x="60" y="45"/><use href="#c" class="O" x="90" y="60"/><use href="#c" class="B" x="120" y="45"/><text class="l" x="238.5" y="76.5">180<tspan class="k" x="238.5" dy="13">91980</tspan><tspan class="p" x="238.5" dy="13">0.00%</tspan></text></g>
</g>

<g id="row18" transform="translate(31.3,2836.3)">
<use href="#st"/>
<g id="m69"><text class="n" y="-8">69</text><use href="#c" class="B" x="0" y="45"/><use href="#c" class="R" x="30" y="15"/><use href="#c" class="B" x="60" y="45"/><use href="#c" class="R" x="90" y="15"/><use href="#c" class="B" x="120" y="45"/><text class="l" x="238.5" y="76.5">180<tspan class="k" x="238.5" dy="13">93060</tspan><tspan class="p" x="238.5" dy="13">0.00%</tspan></text></g>
<g id="m70" transform="translate(240)"><text class="n" y="-8">70</text><use href="#c" class="B" x="0" y="45"/><use href="#c" class="R" x="30" y="15"/><use href="#c" class="B" x="60" y="45"/><use href="#c" class="O" x="90" y="60"/><use href="#c" class="B" x="120" y="45"/><text class="l" x="238.5" y="76.5">180<tspan class="k" x="238.5" dy="13">94140</tspan><tspan class="p" x="238.5" dy="13">0.00%</tspan></text></g>
<g id="m71" transform="translate(480)"><text class="n" y="-8">71</text><use href="#c" class="G" x="60" y="0"/><text class="l" x="238.5" y="76.5">36<tspan class="k" x="238.5" dy="13">94356</tspan><tspan class="p" x="238.5" dy="13">0.00%</tspan></text></g>
<g id="m72" transform="translate(720)"><text class="n" y="-8">72</text><use href="#c" class="B" x="0" y="45"/><use href="#c" class="R" x="30" y="15"/><use href="#c" class="B" x="60" y="45"/><use href="#c" class="R" x="90" y="15"/><use href="#c" class="B" x="120" y="45"/><text class="l" x="238.5" y="76.5">180<tspan class="k" x="238.5" dy="13">95436</tspan><tspan class="p" x="238.5" dy="13">0.00%</tspan></text></g>
</g>

<g id="row19" transform="translate(31.3,2990.3)">
<use href="#st"/>
<g id="m73"><text class="n" y="-8">73</text><rect class="B" x="120" y="42" width="45" height="6"/><rect class="R" x="180" y="12" width="45" height="6"/><use href="#s" class="B" x="0" y="45"/><use href="#s" class="R" x="30" y="15"/><use href="#s" class="B" x="60" y="45"/><use href="#s" class="O" x="90" y="60"/><use href="#s" class="B" x="120" y="45"/><use href="#s" class="R" x="180" y="15"/><text class="l" x="238.5" y="76.5">234<tspan class="k" x="238.5" dy="13">96840</tspan><tspan class="p" x="238.5" dy="13">0.00%</tspan></text></g>
<g id="m74" transform="translate(240)"><text class="n" y="-8">74</text><rect class="B" x="120" y="42" width="45" height="6"/><rect class="R" x="180" y="12" width="105" height="6"/><use href="#s" class="B" x="0" y="45"/><use href="#s" class="R" x="30" y="15"/><use href="#s" class="B" x="60" y="45"/><use href="#s" class="O" x="90" y="60"/><use href="#s" class="B" x="120" y="45"/><use href="#c" class="R" x="180" y="15"/><text class="l" x="238.5" y="76.5">237<tspan class="k" x="238.5" dy="13">98550</tspan><tspan class="p" x="238.5" dy="13">22.63%</tspan></text></g>
<g id="m75" transform="translate(480)"><text class="n" y="-8">75</text><use href="#c" class="B" x="60" y="45"/><use href="#c" class="B" x="120" y="45"/><use href="#c" class="R" x="150" y="15"/><use href="#c" class="B" x="180" y="45"/><use href="#c" class="R" x="210" y="15"/><text class="l" x="238.5" y="76.5">189<tspan class="k" x="238.5" dy="13">100818</tspan><tspan class="p" x="238.5" dy="13">10.13%</tspan></text></g>
<g id="m76" transform="translate(720)"><text class="n" y="-8">76</text><rect class="B" x="150" y="42" width="45" height="6"/><rect class="R" x="210" y="12" width="30" height="6"/><use href="#c" class="B" x="15" y="45"/><use href="#c" class="R" x="45" y="15"/><use href="#c" class="B" x="75" y="45"/><use href="#c" class="O" x="105" y="60"/><use href="#c" class="B" x="150" y="45"/><use href="#c" class="R" x="210" y="15"/><text class="l" x="238.5" y="76.5">231<tspan class="k" x="238.5" dy="13">103554</tspan><tspan class="p" x="238.5" dy="13">0.00%</tspan></text></g>
<rect class="sp" x="0" width="405" height="60"/><rect class="pk" x="420" width="14" height="60"/><rect class="od" x="434" width="481" height="60"/><rect class="pk" x="915" width="15" height="60"/>
</g>

<g id="row20" transform="translate(31.3,3144.3)">
<use href="#st"/>
<g id="m77"><text class="n" y="-8">77</text><rect class="R" x="0" y="12" width="30" height="6"/><use href="#c" class="B" x="135" y="45"/><use href="#c" class="R" x="165" y="15"/><text class="l" x="238.5" y="76.5">78<tspan class="k" x="238.5" dy="13">104022</tspan><tspan class="p" x="238.5" dy="13">0.00%</tspan></text></g>
<g id="m78" transform="translate(240)"><text class="n" y="-8">78</text><rect class="Y" x="195" y="27" width="75" height="6"/><use href="#c" class="B" x="0" y="45"/><use href="#c" class="R" x="30" y="15"/><use href="#c" class="B" x="60" y="45"/><use href="#c" class="O" x="97.5" y="60"/><use href="#c" class="B" x="142.5" y="45"/><use href="#c" class="Y" x="195" y="30"/><text class="l" x="238.5" y="76.5">225<tspan class="k" x="238.5" dy="13">105372</tspan><tspan class="p" x="238.5" dy="13">0.00%</tspan></text></g>
<g id="m79" transform="translate(480)"><text class="n" y="-8">79</text><rect class="B" x="120" y="42" width="45" height="6"/><use href="#c" class="B" x="120" y="45"/><use href="#c" class="R" x="180" y="15"/><text class="l" x="238.5" y="76.5">87<tspan class="k" x="238.5" dy="13">105894</tspan><tspan class="p" x="238.5" dy="13">0.00%</tspan></text></g>
<g id="m80" transform="translate(720)"><text class="n" y="-8">80</text><rect class="B" x="120" y="42" width="45" height="6"/><rect class="R" x="180" y="12" width="45" height="6"/><use href="#c" class="B" x="0" y="45"/><use href="#c" class="B" x="30" y="45"/><use href="#c" class="R" x="60" y="15"/><use href="#c" class="B" x="120" y="45"/><use href="#c" class="R" x="180" y="15"/><text class="l" x="238.5" y="76.5">198<tspan class="k" x="238.5" dy="13">107082</tspan><tspan class="p" x="238.5" dy="13">0.00%</tspan></text></g>
</g>

<g id="row21" transform="translate(31.3,3298.3)">
<use href="#st"/>
<g id="m81"><text class="n" y="-8">81</text><rect class="Y" x="120" y="27" width="45" height="6"/><use href="#c" class="G" x="60" y="0"/><use href="#c" class="Y" x="120" y="30"/><use href="#c" class="G" x="180" y="0"/><text class="l" x="238.5" y="76.5">117<tspan class="k" x="238.5" dy="13">107784</tspan><tspan class="p" x="238.5" dy="13">0.00%</tspan></text></g>
<g id="m82" transform="translate(240)"><text class="n" y="-8">82</text><use href="#c" class="G" x="0" y="0"/><use href="#c" class="B" x="120" y="45"/><use href="#c" class="G" x="180" y="0"/><text class="l" x="238.5" y="76.5">108<tspan class="k" x="238.5" dy="13">108432</tspan><tspan class="p" x="238.5" dy="13">0.00%</tspan></text></g>
<g id="m83" transform="translate(480)"><text class="n" y="-8">83</text><rect class="Y" x="120" y="27" width="45" height="6"/><use href="#c" class="R" x="0" y="15"/><use href="#c" class="O" x="60" y="60"/><use href="#s" class="Y" x="120" y="30"/><use href="#s" class="G" x="180" y="0"/><text class="l" x="238.5" y="76.5">153<tspan class="k" x="238.5" dy="13">109350</tspan><tspan class="p" x="238.5" dy="13">0.00%</tspan></text></g>
<g id="m84" transform="translate(720)"><text class="n" y="-8">84</text><rect class="Y" x="0" y="27" width="45" height="6"/><use href="#s" class="Y" x="0" y="30"/><use href="#s" class="G" x="60" y="0"/><use href="#c" class="B" x="120" y="45"/><use href="#c" class="R" x="180" y="15"/><text class="l" x="238.5" y="76.5">153<tspan class="k" x="238.5" dy="13">110268</tspan><tspan class="p" x="238.5" dy="13">25.00%</tspan></text></g>
<rect class="sp" x="600" width="180" height="60"/>
</g>

<g id="row22" transform="translate(31.3,3452.3)">
<use href="#st"/>
<g id="m85"><text class="n" y="-8">85</text><use href="#c" class="Y" x="60" y="30"/><use href="#c" class="R" x="90" y="15"/><use href="#c" class="B" x="120" y="45"/><use href="#c" class="R" x="150" y="15"/><use href="#c" class="B" x="180" y="45"/><use href="#c" class="R" x="210" y="15"/><text class="l" x="238.5" y="76.5">216<tspan class="k" x="238.5" dy="13">111564</tspan><tspan class="p" x="238.5" dy="13">25.00%</tspan></text></g>
<g id="m86" transform="translate(240)"><text class="n" y="-8">86</text><rect class="B" x="135" y="42" width="45" height="6"/><rect class="Y" x="195" y="27" width="90" height="6"/><use href="#c" class="B" x="0" y="45"/><use href="#c" class="B" x="45" y="45"/><use href="#c" class="R" x="67.5" y="15"/><use href="#c" class="O" x="90" y="60"/><use href="#c" class="B" x="135" y="45"/><use href="#c" class="Y" x="195" y="30"/><text class="l" x="238.5" y="76.5">234<tspan class="k" x="238.5" dy="13">112968</tspan><tspan class="p" x="238.5" dy="13">25.00%</tspan></text></g>
<g id="m87" transform="translate(480)"><text class="n" y="-8">87</text><rect class="B" x="60" y="42" width="45" height="6"/><use href="#c" class="B" x="60" y="45"/><use href="#c" class="O" x="120" y="60"/><text class="l" x="238.5" y="76.5">90<tspan class="k" x="238.5" dy="13">113508</tspan><tspan class="p" x="238.5" dy="13">25.00%</tspan></text></g>
<g id="m88" transform="translate(720)"><text class="n" y="-8">88</text><use href="#c" class="G" x="0" y="0"/><use href="#c" class="G" x="45" y="0"/><use href="#c" class="B" x="67.5" y="45"/><use href="#c" class="Y" x="97.5" y="30"/><use href="#c" class="G" x="135" y="0"/><use href="#c" class="Y" x="187.5" y="30"/><use href="#c" class="G" x="217.5" y="0"/><text class="l" x="238.5" y="76.5">252<tspan class="k" x="238.5" dy="13">116316</tspan><tspan class="p" x="238.5" dy="13">15.60%</tspan></text></g>
<rect class="pk" x="765" width="14" height="60"/><rect class="od" x="779" width="181" height="60"/>
</g>

<g id="row23" transform="translate(31.3,3606.3)">
<use href="#st"/>
<g id="m89"><text class="n" y="-8">89</text><use href="#c" class="Y" x="7.5" y="30"/><use href="#c" class="G" x="37.5" y="0"/><use href="#c" class="B" x="60" y="45"/><use href="#c" class="Y" x="82.5" y="30"/><use href="#c" class="G" x="127.5" y="0"/><use href="#c" class="Y" x="187.5" y="30"/><text class="l" x="238.5" y="76.5">216<tspan class="k" x="238.5" dy="13">118908</tspan><tspan class="p" x="238.5" dy="13">3.10%</tspan></text></g>
<g id="m90" transform="translate(240)"><text class="n" y="-8">90</text><use href="#c" class="Y" x="22.5" y="30"/><use href="#c" class="G" x="45" y="0"/><use href="#c" class="B" x="75" y="45"/><use href="#c" class="Y" x="105" y="30"/><use href="#c" class="G" x="142.5" y="0"/><use href="#c" class="R" x="180" y="15"/><text class="l" x="238.5" y="76.5">216<tspan class="k" x="238.5" dy="13">120852</tspan><tspan class="p" x="238.5" dy="13">0.00%</tspan></text></g>
<g id="m91" transform="translate(480)"><text class="n" y="-8">91</text><use href="#s" class="R" x="0" y="15"/><use href="#s" class="R" x="30" y="15"/><use href="#s" class="B" x="60" y="45"/><use href="#s" class="O" x="90" y="60"/><use href="#s" class="R" x="120" y="15"/><use href="#s" class="B" x="150" y="45"/><use href="#c" class="R" x="180" y="15"/><use href="#c" class="B" x="210" y="45"/><text class="l" x="238.5" y="76.5">288<tspan class="k" x="238.5" dy="13">122580</tspan><tspan class="p" x="238.5" dy="13">25.00%</tspan></text></g>
<g id="m92" transform="translate(720)"><text class="n" y="-8">92</text><use href="#c" class="G" x="15" y="0"/><use href="#c" class="G" x="37.5" y="0"/><use href="#c" class="Y" x="60" y="30"/><use href="#c" class="Y" x="90" y="30"/><use href="#c" class="Y" x="135" y="30"/><use href="#c" class="G" x="180" y="0"/><text class="l" x="238.5" y="76.5">216<tspan class="k" x="238.5" dy="13">125172</tspan><tspan class="p" x="238.5" dy="13">13.84%</tspan></text></g>
<rect class="od" x="0" width="300" height="60"/><rect class="pk" x="300" width="15" height="60"/><rect class="sp" x="480" width="150" height="60"/><rect class="pk" x="735" width="10" height="60"/><rect class="od" x="745" width="215" height="60"/>
</g>

<g id="row24" transform="translate(31.3,3760.3)">
<use href="#st"/>
<g id="m93"><text class="n" y="-8">93</text><use href="#c" class="Y" x="0" y="30"/><use href="#c" class="R" x="30" y="15"/><use href="#c" class="Y" x="60" y="30"/><use href="#c" class="R" x="90" y="15"/><use href="#c" class="Y" x="120" y="30"/><use href="#c" class="G" x="150" y="0"/><use href="#c" class="Y" x="180" y="30"/><use href="#c" class="G" x="210" y="0"/><text class="l" x="238.5" y="76.5">288<tspan class="k" x="238.5" dy="13">128628</tspan><tspan class="p" x="238.5" dy="13">1.34%</tspan></text></g>
<g id="m94" transform="translate(240)"><text class="n" y="-8">94</text><use href="#c" class="G" x="7.5" y="0"/><use href="#c" class="G" x="37.5" y="0"/><use href="#c" class="Y" x="67.5" y="30"/><use href="#c" class="B" x="97.5" y="45"/><use href="#c" class="Y" x="150" y="30"/><use href="#c" class="G" x="195" y="0"/><text class="l" x="238.5" y="76.5">216<tspan class="k" x="238.5" dy="13">130356</tspan><tspan class="p" x="238.5" dy="13">0.00%</tspan></text></g>
<g id="m95" transform="translate(480)"><text class="n" y="-8">95</text><use href="#c" class="B" x="75" y="45"/><use href="#c" class="Y" x="97.5" y="30"/><use href="#c" class="Y" x="195" y="30"/><use href="#c" class="R" x="217.5" y="15"/><text class="l" x="238.5" y="76.5">144<tspan class="k" x="238.5" dy="13">131220</tspan><tspan class="p" x="238.5" dy="13">0.00%</tspan></text></g>
<g id="m96" transform="translate(720)"><text class="n" y="-8">96</text><use href="#c" class="Y" x="7.5" y="30"/><use href="#c" class="Y" x="135" y="30"/><use href="#c" class="R" x="157.5" y="15"/><use href="#c" class="Y" x="187.5" y="30"/><text class="l" x="238.5" y="76.5">144<tspan class="k" x="238.5" dy="13">132084</tspan><tspan class="p" x="238.5" dy="13">0.00%</tspan></text></g>
<rect class="od" x="0" width="266" height="60"/><rect class="pk" x="266" width="11" height="60"/>
</g>

<g id="row25" transform="translate(31.3,3914.3)">
<use href="#st"/>
<g id="m97"><text class="n" y="-8">97</text><use href="#c" class="Y" x="135" y="30"/><use href="#c" class="R" x="157.5" y="15"/><use href="#c" class="Y" x="187.5" y="30"/><use href="#c" class="R" x="217.5" y="15"/><text class="l" x="238.5" y="76.5">144<tspan class="k" x="238.5" dy="13">132948</tspan><tspan class="p" x="238.5" dy="13">0.00%</tspan></text></g>
<g id="m98" transform="translate(240)"><text class="n" y="-8">98</text><use href="#c" class="O" x="15" y="60"/><use href="#c" class="Y" x="37.5" y="30"/><use href="#c" class="Y" x="60" y="30"/><use href="#c" class="R" x="90" y="15"/><use href="#c" class="R" x="127.5" y="15"/><use href="#c" class="G" x="165" y="0"/><use href="#c" class="G" x="187.5" y="0"/><text class="l" x="238.5" y="76.5">252<tspan class="k" x="238.5" dy="13">134460</tspan><tspan class="p" x="238.5" dy="13">0.00%</tspan></text></g>
<g id="m99" transform="translate(480)"><text class="n" y="-8">99</text><text class="l" x="238.5" y="76.5">0<tspan class="k" x="238.5" dy="13">134460</tspan><tspan class="p" x="238.5" dy="13">0.00%</tspan></text></g>
<g id="m100" transform="translate(720)"><text class="n" y="-8">100</text><rect class="R" x="180" y="12" width="45" height="6"/><use href="#c" class="O" x="0" y="60"/><use href="#c" class="R" x="30" y="15"/><use href="#c" class="Y" x="60" y="30"/><use href="#c" class="G" x="90" y="0"/><use href="#c" class="G" x="120" y="0"/><use href="#c" class="G" x="150" y="0"/><use href="#c" class="R" x="180" y="15"/><text class="l" x="238.5" y="76.5">261<tspan class="k" x="238.5" dy="13">136026</tspan><tspan class="p" x="238.5" dy="13">0.00%</tspan></text></g>
</g>

<g id="row26" transform="translate(31.3,4068.3)">
<use href="#st"/>
<g id="m101"><text class="n" y="-8">101</text><rect class="R" x="60" y="12" width="90" height="6"/><use href="#c" class="R" x="0" y="15"/><use href="#c" class="Y" x="30" y="30"/><use href="#c" class="R" x="60" y="15"/><text class="l" x="238.5" y="76.5">126<tspan class="k" x="238.5" dy="13">136782</tspan><tspan class="p" x="238.5" dy="13">0.00%</tspan></text></g>
<g id="m102" transform="translate(240)"><text class="n" y="-8">102</text><use href="#s" class="O" x="0" y="60"/><use href="#s" class="R" x="30" y="15"/><use href="#s" class="Y" x="60" y="30"/><use href="#s" class="G" x="90" y="0"/><use href="#s" class="G" x="120" y="0"/><use href="#s" class="G" x="150" y="0"/><use href="#s" class="R" x="180" y="15"/><use href="#s" class="R" x="210" y="15"/><text class="l" x="238.5" y="76.5">288<tspan class="k" x="238.5" dy="13">138510</tspan><tspan class="p" x="238.5" dy="13">25.00%</tspan></text></g>
<g id="m103" transform="translate(480)"><text class="n" y="-8">103</text><rect class="R" x="60" y="12" width="90" height="6"/><use href="#c" class="R" x="0" y="15"/><use href="#c" class="Y" x="30" y="30"/><use href="#c" class="R" x="60" y="15"/><use href="#c" class="G" x="180" y="0"/><use href="#c" class="G" x="210" y="0"/><text class="l" x="238.5" y="76.5">198<tspan class="k" x="238.5" dy="13">140130</tspan><tspan class="p" x="238.5" dy="13">22.64%</tspan></text></g>
<g id="m104" transform="translate(720)"><text class="n" y="-8">104</text><use href="#c" class="O" x="0" y="60"/><use href="#c" class="R" x="30" y="15"/><use href="#c" class="Y" x="60" y="30"/><use href="#c" class="G" x="90" y="0"/><use href="#c" class="G" x="120" y="0"/><use href="#c" class="G" x="150" y="0"/><use href="#c" class="R" x="180" y="15"/><use href="#c" class="R" x="210" y="15"/><text class="l" x="238.5" y="76.5">288<tspan class="k" x="238.5" dy="13">143586</tspan><tspan class="p" x="238.5" dy="13">10.14%</tspan></text></g>
<rect class="sp" x="240" width="210" height="60"/><rect class="pk" x="660" width="14" height="60"/><rect class="od" x="674" width="286" height="60"/>
</g>

<g id="row27" transform="translate(31.3,4222.3)">
<use href="#st"/>
<g id="m105"><text class="n" y="-8">105</text><rect class="Y" x="0" y="27" width="45" height="6"/><rect class="R" x="60" y="12" width="105" height="6"/><use href="#c" class="Y" x="0" y="30"/><use href="#c" class="R" x="60" y="15"/><use href="#c" class="G" x="180" y="0"/><use href="#c" class="G" x="210" y="0"/><text class="l" x="238.5" y="76.5">174<tspan class="k" x="238.5" dy="13">145674</tspan><tspan class="p" x="238.5" dy="13">0.00%</tspan></text></g>
<g id="m106" transform="translate(240)"><text class="n" y="-8">106</text><use href="#c" class="O" x="0" y="60"/><use href="#c" class="R" x="30" y="15"/><use href="#c" class="Y" x="60" y="30"/><use href="#c" class="G" x="90" y="0"/><use href="#c" class="G" x="120" y="0"/><use href="#c" class="G" x="150" y="0"/><use href="#c" class="R" x="180" y="15"/><use href="#c" class="R" x="210" y="15"/><text class="l" x="238.5" y="76.5">288<tspan class="k" x="238.5" dy="13">147402</tspan><tspan class="p" x="238.5" dy="13">0.00%</tspan></text></g>
<g id="m107" transform="translate(480)"><text class="n" y="-8">107</text><use href="#c" class="R" x="60" y="15"/><text class="l" x="238.5" y="76.5">36<tspan class="k" x="238.5" dy="13">147618</tspan><tspan class="p" x="238.5" dy="13">0.00%</tspan></text></g>
<g id="m108" transform="translate(720)"><text class="n" y="-8">108</text><use href="#c" class="R" x="0" y="15"/><use href="#c" class="G" x="30" y="0"/><use href="#c" class="R" x="60" y="15"/><use href="#c" class="Y" x="90" y="30"/><use href="#c" class="R" x="120" y="15"/><text class="l" x="238.5" y="76.5">180<tspan class="k" x="238.5" dy="13">148698</tspan><tspan class="p" x="238.5" dy="13">0.00%</tspan></text></g>
<rect class="od" x="0" width="194" height="60"/><rect class="pk" x="194" width="16" height="60"/>
</g>

<g id="row28" transform="translate(31.3,4376.3)">
<use href="#st"/>
<g id="m109"><text class="n" y="-8">109</text><use href="#s" class="R" x="0" y="15"/><use href="#s" class="G" x="30" y="0"/><use href="#s" class="R" x="60" y="15"/><use href="#s" class="Y" x="90" y="30"/><use href="#s" class="R" x="120" y="15"/><text class="l" x="238.5" y="76.5">180<tspan class="k" x="238.5" dy="13">149994</tspan><tspan class="p" x="238.5" dy="13">25.00%</tspan></text></g>
<g id="m110" transform="translate(240)"><text class="n" y="-8">110</text><use href="#c" class="R" x="0" y="15"/><use href="#c" class="G" x="30" y="0"/><use href="#c" class="R" x="60" y="15"/><use href="#c" class="Y" x="90" y="30"/><use href="#c" class="R" x="120" y="15"/><text class="l" x="238.5" y="76.5">180<tspan class="k" x="238.5" dy="13">151938</tspan><tspan class="p" x="238.5" dy="13">13.25%</tspan></text></g>
<g id="m111" transform="translate(480)"><text class="n" y="-8">111</text><use href="#c" class="R" x="0" y="15"/><use href="#c" class="G" x="30" y="0"/><use href="#c" class="R" x="60" y="15"/><use href="#c" class="Y" x="90" y="30"/><use href="#c" class="R" x="120" y="15"/><text class="l" x="238.5" y="76.5">180<tspan class="k" x="238.5" dy="13">154098</tspan><tspan class="p" x="238.5" dy="13">0.75%</tspan></text></g>
<g id="m112" transform="translate(720)"><text class="n" y="-8">112</text><use href="#c" class="R" x="0" y="15"/><use href="#c" class="G" x="30" y="0"/><use href="#c" class="R" x="60" y="15"/><use href="#c" class="Y" x="90" y="30"/><use href="#c" class="R" x="120" y="15"/><text class="l" x="238.5" y="76.5">180<tspan class="k" x="238.5" dy="13">155610</tspan><tspan class="p" x="238.5" dy="13">0.00%</tspan></text></g>
<rect class="sp" x="0" width="120" height="60"/><rect class="pk" x="240" width="14" height="60"/><rect class="od" x="254" width="480" height="60"/><rect class="pk" x="734" width="16" height="60"/>
</g>

<g id="row29" transform="translate(31.3,4530.3)">
<use href="#st2"/>
<g id="m113"><text class="n" y="-8">113</text><use href="#c" class="R" x="0" y="15"/><use href="#c" class="G" x="30" y="0"/><use href="#c" class="R" x="60" y="15"/><use href="#c" class="Y" x="90" y="30"/><use href="#c" class="R" x="120" y="15"/><text class="l" x="238.5" y="76.5">180<tspan class="k" x="238.5" dy="13">156690</tspan><tspan class="p" x="238.5" dy="13">0.00%</tspan></text></g>
<g id="m114" transform="translate(240)"><text class="n" y="-8">114</text><use href="#c" class="R" x="0" y="15"/><use href="#c" class="G" x="30" y="0"/><use href="#c" class="R" x="60" y="15"/><use href="#c" class="Y" x="90" y="30"/><use href="#c" class="R" x="120" y="15"/><text class="l" x="238.5" y="76.5">180<tspan class="k" x="238.5" dy="13">157770</tspan><tspan class="p" x="238.5" dy="13">0.00%</tspan></text></g>
</g>
</g>
</svg>
